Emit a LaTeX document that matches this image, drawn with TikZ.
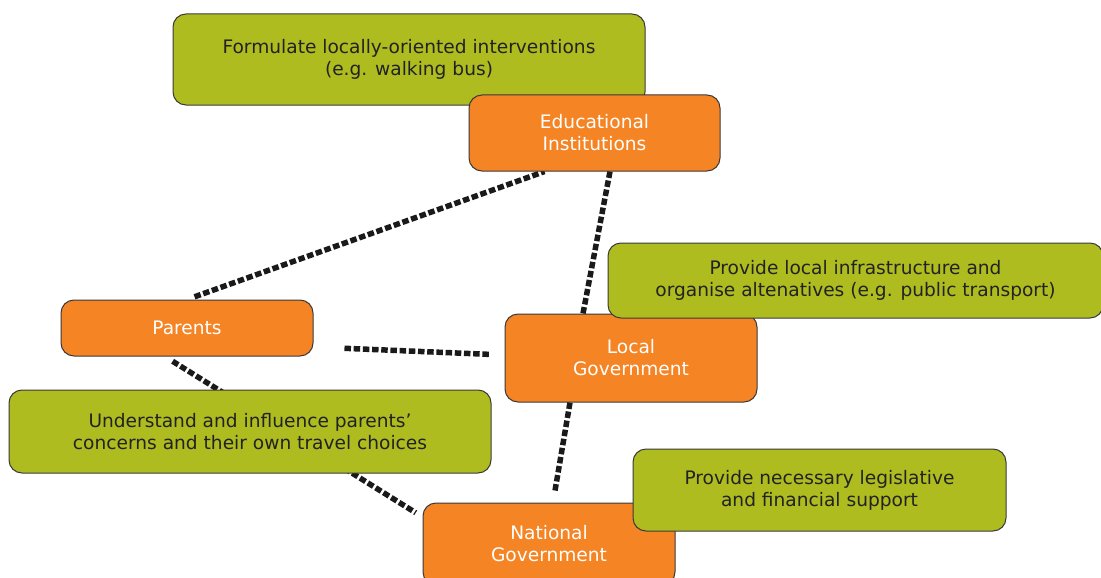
\documentclass[tikz,border=0pt]{standalone}
\usepackage{fontspec}
\setmainfont{DejaVu Sans}
\usetikzlibrary{calc}
\pgfdeclarelayer{background}
\pgfsetlayers{background,main}
\definecolor{orangebox}{HTML}{F48424}
\definecolor{greenbox}{HTML}{AEBC20}
\definecolor{edgegray}{HTML}{3A3A3A}
\definecolor{textdark}{HTML}{222222}
\definecolor{dashcol}{HTML}{1A1A1A}
\begin{document}
\begin{tikzpicture}[x=1pt,y=-1pt,
  box/.style={draw=edgegray, line width=1pt, rounded corners=13pt, align=center,
    font=\fontsize{18.6}{22}\selectfont, inner sep=0pt},
  orangenode/.style={box, fill=orangebox, text=white},
  greennode/.style={box, fill=greenbox, text=textdark},
  conn/.style={draw=dashcol, line width=5.5pt, dash pattern=on 6.5pt off 2.7pt}]
\useasboundingbox (0,0) rectangle (1101,578);
\node[greennode, minimum width=472pt, minimum height=91pt] (form) at (409,59.5)
  {Formulate locally-oriented interventions\\(e.g. walking bus)};
\node[orangenode, minimum width=251pt, minimum height=76pt] (edu) at (594.5,133)
  {Educational\\Institutions};
\node[orangenode, minimum width=252pt, minimum height=56pt] (par) at (187,328)
  {Parents};
\node[orangenode, minimum width=252pt, minimum height=88pt] (loc) at (631,358)
  {Local\\Government};
\node[greennode, minimum width=495pt, minimum height=75pt] (provloc) at (855.5,280.5)
  {Provide local infrastructure and\\organise altenatives (e.g. public transport)};
\node[greennode, minimum width=482pt, minimum height=83pt] (und) at (250,431.5)
  {Understand and influence parents’\\concerns and their own travel choices};
\node[orangenode, minimum width=252pt, minimum height=82pt] (nat) at (549,544)
  {National\\Government};
\node[greennode, minimum width=373pt, minimum height=82pt] (provnat) at (819.5,490)
  {Provide necessary legislative\\and financial support};
\begin{pgfonlayer}{background}
\draw[conn, shorten <=8pt] ([xshift=0pt]par.north) -- ([xshift=-50pt]edu.south);
\draw[conn] ([xshift=15.5pt]edu.south) -- ([xshift=-48pt]loc.north);
\draw[conn, shorten <=31pt, shorten >=15pt] ([yshift=-19pt]par.east) -- ([yshift=3pt]loc.west);
\draw[conn, shorten <=9pt, shorten >=8pt] ([xshift=-22pt]par.south) -- ([yshift=27pt]nat.west);
\draw[conn, shorten >=10pt] ([xshift=-61pt]loc.south) -- ([xshift=4pt]nat.north);
\end{pgfonlayer}
\end{tikzpicture}
\end{document}
